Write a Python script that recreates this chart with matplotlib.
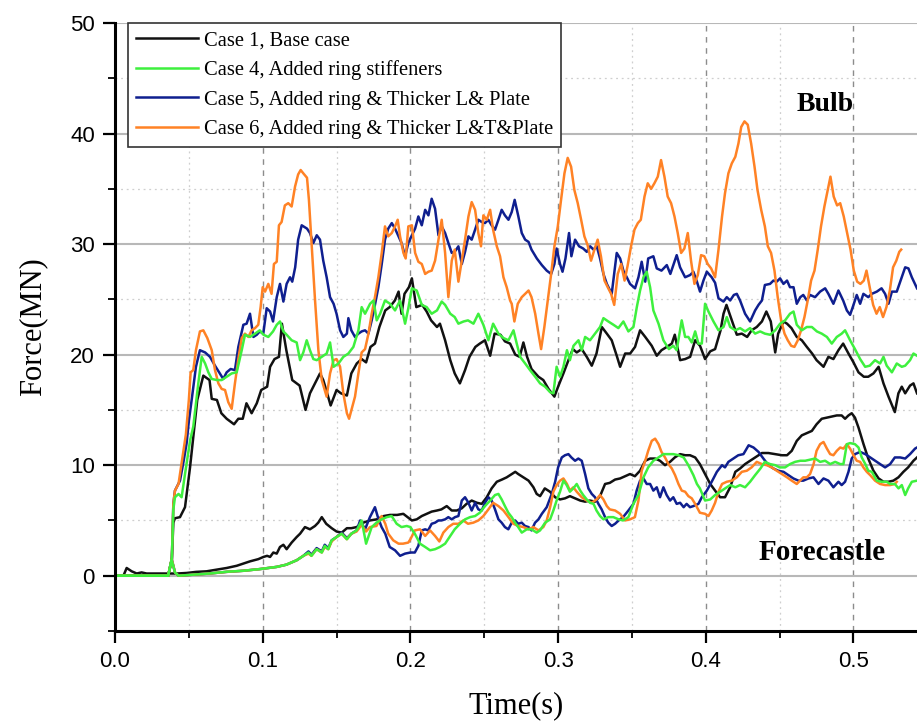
import matplotlib.pyplot as plt
import numpy as np
from matplotlib.ticker import MultipleLocator, FormatStrFormatter
from matplotlib.font_manager import FontProperties

# (time [s], force [MN]) samples for each case, bulb and forecastle contact
case1_bulb = [(0.000,0.0),(0.036,0.0),(0.0385,1.5),(0.0395,4.8),(0.0406,5.2),(0.044,5.3),(0.0474,6.2),(0.0508,9.8),(0.054,13.8),(0.0557,15.9),(0.0598,18.1),(0.064,17.7),(0.0655,16.0),(0.069,15.9),(0.072,14.7),(0.0756,14.2),(0.0806,13.7),(0.0835,14.2),(0.0865,14.2),(0.089,15.6),(0.0925,14.7),(0.096,15.6),(0.099,16.8),(0.103,17.1),(0.105,18.9),(0.108,19.6),(0.111,19.8),(0.113,22.8),(0.116,20.4),(0.120,17.7),(0.125,17.2),(0.129,15.0),(0.132,16.5),(0.1354,17.4),(0.1388,18.3),(0.141,17.7),(0.143,16.8),(0.146,15.4),(0.150,16.8),(0.153,16.5),(0.157,16.3),(0.160,18.3),(0.1637,19.2),(0.167,19.6),(0.170,19.3),(0.173,20.7),(0.176,21.0),(0.179,22.5),(0.183,24.0),(0.186,24.3),(0.1895,24.9),(0.192,25.7),(0.194,23.7),(0.196,25.5),(0.199,26.1),(0.201,26.9),(0.204,24.3),(0.208,24.5),(0.211,23.9),(0.214,23.1),(0.218,22.5),(0.220,22.8),(0.2235,21.3),(0.227,19.5),(0.230,18.3),(0.2335,17.4),(0.237,18.6),(0.240,19.8),(0.244,20.7),(0.247,21.0),(0.2505,21.3),(0.254,19.9),(0.257,21.9),(0.261,21.8),(0.264,21.2),(0.2675,21.0),(0.271,20.0),(0.274,19.8),(0.2765,21.1),(0.279,19.8),(0.282,18.7),(0.2867,18.0),(0.290,17.7),(0.2935,16.9),(0.2975,16.2),(0.300,17.1),(0.3036,18.3),(0.307,19.5),(0.310,20.5),(0.3126,20.2),(0.316,20.5),(0.3194,19.8),(0.3228,19.0),(0.326,20.1),(0.3296,22.5),(0.333,21.9),(0.3363,21.3),(0.3397,19.9),(0.342,18.9),(0.3454,20.1),(0.3488,20.1),(0.3521,20.7),(0.3555,22.2),(0.359,21.6),(0.3634,20.8),(0.3668,19.9),(0.370,20.4),(0.3736,20.7),(0.377,21.0),(0.379,21.8),(0.3826,19.5),(0.386,19.6),(0.3894,19.8),(0.3928,21.3),(0.3961,20.8),(0.3995,19.6),(0.403,20.3),(0.4063,20.5),(0.410,22.2),(0.412,23.7),(0.414,24.5),(0.4176,23.1),(0.421,21.8),(0.4244,21.9),(0.428,21.6),(0.431,22.2),(0.4345,22.5),(0.438,23.0),(0.441,23.9),(0.444,23.0),(0.447,20.2),(0.449,21.9),(0.4526,23.0),(0.455,22.8),(0.458,22.4),(0.4616,21.6),(0.465,21.3),(0.4684,20.7),(0.472,20.1),(0.475,19.5),(0.4797,18.9),(0.483,19.8),(0.4864,19.6),(0.4898,20.4),(0.493,21.0),(0.4966,20.1),(0.500,19.3),(0.5034,18.4),(0.507,18.0),(0.510,18.0),(0.5135,18.3),(0.517,18.9),(0.5203,17.4),(0.5237,16.2),(0.528,14.8),(0.5304,16.5),(0.5327,17.1),(0.535,16.5),(0.5383,17.2),(0.5406,17.4),(0.543,16.5)]

case1_fore = [(0.000,0.0),(0.0057,0.0),(0.0079,0.7),(0.0113,0.4),(0.0147,0.2),(0.018,0.3),(0.0214,0.2),(0.026,0.2),(0.030,0.2),(0.036,0.2),(0.042,0.2),(0.0485,0.25),(0.055,0.35),(0.062,0.4),(0.069,0.55),(0.0756,0.7),(0.0824,0.9),(0.087,1.1),(0.0914,1.3),(0.097,1.5),(0.1005,1.7),(0.103,1.8),(0.105,1.7),(0.1072,2.1),(0.1095,2.0),(0.1117,2.6),(0.114,2.8),(0.1162,2.4),(0.1196,3.0),(0.123,3.5),(0.1253,3.8),(0.1286,4.4),(0.132,4.2),(0.1354,4.5),(0.1376,4.8),(0.140,5.3),(0.143,4.7),(0.1467,4.3),(0.150,4.0),(0.1535,3.9),(0.157,4.3),(0.160,4.3),(0.1636,4.4),(0.168,4.8),(0.1726,5.0),(0.1772,5.1),(0.182,5.4),(0.1862,5.5),(0.191,5.5),(0.1952,5.6),(0.201,5.0),(0.2043,5.1),(0.2077,5.4),(0.211,5.6),(0.2144,5.8),(0.218,5.9),(0.221,6.0),(0.2246,6.3),(0.228,5.9),(0.2314,5.9),(0.2348,6.1),(0.238,6.5),(0.2415,6.8),(0.245,6.6),(0.2483,6.5),(0.2517,7.1),(0.255,7.9),(0.2585,8.5),(0.262,8.7),(0.2652,8.9),(0.2686,9.2),(0.271,9.4),(0.273,9.2),(0.2765,8.9),(0.280,8.6),(0.2833,8.0),(0.2855,7.4),(0.2878,7.2),(0.291,7.9),(0.2945,7.6),(0.298,7.1),(0.3013,6.9),(0.3047,7.0),(0.308,7.2),(0.3115,7.0),(0.315,6.8),(0.3183,6.7),(0.3216,6.8),(0.325,6.7),(0.3284,7.2),(0.3318,8.3),(0.335,8.4),(0.3386,8.7),(0.342,8.8),(0.3453,9.0),(0.3487,9.2),(0.352,9.0),(0.3555,9.5),(0.359,10.4),(0.3623,10.6),(0.3657,10.6),(0.369,10.4),(0.3724,10.0),(0.3758,10.3),(0.379,10.7),(0.3826,11.0),(0.386,10.9),(0.3893,10.9),(0.3928,10.7),(0.396,10.1),(0.3995,9.2),(0.403,8.3),(0.4063,7.7),(0.4097,7.1),(0.413,7.1),(0.4165,8.0),(0.420,9.4),(0.4232,9.7),(0.4266,10.1),(0.430,10.4),(0.4334,10.7),(0.438,11.1),(0.4424,11.1),(0.447,11.0),(0.4515,10.9),(0.455,10.9),(0.4582,11.3),(0.4616,12.2),(0.465,12.7),(0.4684,12.9),(0.4718,13.1),(0.475,13.7),(0.4785,14.2),(0.482,14.3),(0.4853,14.4),(0.4887,14.5),(0.492,14.5),(0.4943,14.2),(0.4966,14.5),(0.4988,14.7),(0.501,14.3),(0.5034,13.4),(0.5068,11.9),(0.510,10.6),(0.5135,9.5),(0.517,8.8),(0.5203,8.5),(0.5237,8.5),(0.527,8.6),(0.5304,8.9),(0.5338,9.4),(0.537,9.8),(0.5406,10.4),(0.543,10.7)]

case4_bulb = [(0.000,0.0),(0.036,0.0),(0.0385,1.6),(0.0395,6.0),(0.0406,7.1),(0.043,7.4),(0.0451,7.1),(0.0474,9.2),(0.0508,12.2),(0.053,13.5),(0.0564,17.4),(0.0587,19.8),(0.061,19.2),(0.0632,18.4),(0.0655,17.8),(0.069,17.7),(0.0722,17.7),(0.0756,18.0),(0.079,18.3),(0.0824,18.4),(0.0858,20.4),(0.088,21.8),(0.0914,21.6),(0.0948,21.9),(0.098,22.2),(0.1005,21.8),(0.1038,21.6),(0.107,22.1),(0.1095,22.7),(0.1117,23.0),(0.114,22.1),(0.1162,21.8),(0.1196,21.3),(0.123,21.1),(0.1253,19.5),(0.1275,20.2),(0.1298,21.3),(0.132,20.4),(0.1343,19.6),(0.1366,19.5),(0.140,19.8),(0.1433,20.1),(0.1456,21.1),(0.148,18.9),(0.1513,19.2),(0.1546,19.8),(0.158,20.1),(0.1614,20.7),(0.1648,22.2),(0.167,24.3),(0.1693,23.7),(0.1727,24.6),(0.175,24.9),(0.1772,23.1),(0.1795,23.7),(0.1828,24.9),(0.1862,24.6),(0.1896,24.0),(0.193,24.9),(0.1964,22.8),(0.1986,24.2),(0.201,26.0),(0.2043,25.8),(0.2077,24.5),(0.211,24.3),(0.2144,23.7),(0.218,24.0),(0.2212,24.8),(0.2235,24.5),(0.227,23.7),(0.230,23.4),(0.2325,22.8),(0.236,23.0),(0.239,23.1),(0.2427,22.8),(0.246,23.7),(0.2494,22.7),(0.2528,21.3),(0.256,22.8),(0.2596,21.9),(0.263,21.5),(0.2664,21.3),(0.2698,22.2),(0.272,21.0),(0.2743,19.8),(0.2777,19.2),(0.281,18.6),(0.2845,18.0),(0.2878,17.4),(0.2912,17.1),(0.2946,16.6),(0.2968,16.5),(0.299,18.9),(0.3013,18.0),(0.3036,18.9),(0.306,20.4),(0.308,19.5),(0.3104,20.8),(0.3138,21.3),(0.316,20.4),(0.3183,21.6),(0.3216,21.3),(0.325,21.9),(0.3284,22.5),(0.3307,23.3),(0.334,23.0),(0.3375,22.7),(0.3408,22.4),(0.3442,23.0),(0.3476,22.1),(0.351,22.5),(0.3533,24.3),(0.3555,25.8),(0.3578,27.0),(0.360,27.5),(0.3623,26.1),(0.3645,24.0),(0.368,22.8),(0.3713,21.3),(0.375,20.5),(0.378,20.8),(0.3803,20.4),(0.3837,23.1),(0.386,21.6),(0.3882,21.6),(0.3905,21.1),(0.3928,22.1),(0.395,21.0),(0.3973,21.0),(0.3995,24.6),(0.4018,23.9),(0.4052,23.0),(0.4086,22.2),(0.412,22.5),(0.4142,23.4),(0.4165,22.5),(0.420,22.2),(0.4232,22.4),(0.4266,22.1),(0.430,22.4),(0.4334,21.9),(0.4368,22.1),(0.440,21.9),(0.4435,21.8),(0.447,22.2),(0.4503,22.8),(0.4537,23.1),(0.457,23.7),(0.4594,23.9),(0.4616,22.7),(0.465,22.2),(0.4684,22.5),(0.4718,22.5),(0.4752,22.1),(0.4785,21.9),(0.482,21.6),(0.4853,21.0),(0.4887,21.6),(0.492,21.9),(0.4943,22.2),(0.4977,21.3),(0.501,20.5),(0.5045,19.6),(0.5079,18.9),(0.511,19.0),(0.5146,19.5),(0.518,19.2),(0.5203,19.8),(0.5225,19.0),(0.526,18.4),(0.5293,19.2),(0.5327,18.9),(0.535,19.0),(0.5383,19.5),(0.5406,20.1),(0.543,19.9)]

case4_fore = [(0.000,0.0),(0.036,0.0),(0.0384,1.4),(0.0406,0.3),(0.043,0.0),(0.053,0.1),(0.064,0.2),(0.0756,0.36),(0.087,0.45),(0.098,0.6),(0.1095,0.8),(0.116,1.0),(0.123,1.4),(0.1275,1.8),(0.131,2.1),(0.133,1.8),(0.1365,2.4),(0.140,2.1),(0.142,2.7),(0.1444,2.4),(0.1467,3.2),(0.150,3.5),(0.1535,3.8),(0.157,3.3),(0.160,3.8),(0.1636,4.1),(0.167,5.0),(0.170,2.9),(0.1738,4.4),(0.177,4.8),(0.1805,5.1),(0.184,5.3),(0.1873,5.4),(0.1907,4.7),(0.194,4.4),(0.1975,4.5),(0.200,4.4),(0.203,3.8),(0.2065,2.9),(0.210,2.6),(0.2133,2.3),(0.2167,2.4),(0.220,2.6),(0.2235,2.9),(0.227,3.6),(0.230,4.2),(0.2336,4.7),(0.237,5.1),(0.2404,5.3),(0.2438,5.4),(0.247,5.7),(0.2505,6.3),(0.254,6.8),(0.2573,7.3),(0.2596,7.4),(0.2618,6.9),(0.264,6.3),(0.2663,5.7),(0.2686,5.3),(0.2709,4.8),(0.273,4.4),(0.2754,3.9),(0.2788,4.2),(0.282,4.2),(0.2855,3.9),(0.2878,4.1),(0.2912,4.8),(0.2946,5.1),(0.2968,5.9),(0.299,6.8),(0.3013,7.6),(0.3036,8.6),(0.3058,8.2),(0.308,7.6),(0.3103,7.9),(0.3126,8.3),(0.315,7.7),(0.317,7.3),(0.3194,6.9),(0.3216,6.6),(0.324,6.5),(0.326,5.9),(0.3284,5.4),(0.3307,5.1),(0.334,5.3),(0.3374,5.3),(0.341,5.1),(0.344,5.0),(0.3476,5.3),(0.351,6.5),(0.3544,7.3),(0.3578,8.9),(0.361,9.8),(0.3645,10.4),(0.368,10.7),(0.3713,11.0),(0.375,11.0),(0.378,11.0),(0.3815,10.9),(0.385,10.7),(0.3882,10.0),(0.3916,9.1),(0.394,8.3),(0.396,7.9),(0.3995,6.8),(0.403,6.9),(0.4063,7.3),(0.4097,7.6),(0.413,7.9),(0.4165,8.2),(0.420,8.0),(0.4232,8.2),(0.4266,8.0),(0.430,8.5),(0.4334,9.1),(0.437,9.7),(0.440,10.3),(0.4435,10.1),(0.447,10.0),(0.450,9.8),(0.4537,9.8),(0.457,10.1),(0.4605,10.3),(0.464,10.4),(0.4673,10.4),(0.4707,10.5),(0.474,10.6),(0.4774,10.3),(0.4808,10.4),(0.4842,10.1),(0.4876,10.3),(0.491,10.1),(0.4932,10.1),(0.4955,11.9),(0.4977,12.0),(0.501,11.9),(0.5034,11.6),(0.5056,10.7),(0.508,10.1),(0.510,9.5),(0.5124,9.4),(0.5158,8.6),(0.519,8.5),(0.5225,8.5),(0.5248,8.3),(0.528,8.3),(0.5305,7.9),(0.5327,8.2),(0.535,7.3),(0.537,7.9),(0.5395,8.5),(0.543,8.6)]

case5_bulb = [(0.000,0.0),(0.036,0.0),(0.0385,1.5),(0.0395,6.5),(0.0406,7.7),(0.044,8.6),(0.0465,10.4),(0.0485,12.0),(0.050,14.0),(0.0519,15.9),(0.0548,18.9),(0.0575,20.4),(0.061,20.2),(0.0643,19.8),(0.0677,19.0),(0.071,18.3),(0.0733,17.8),(0.0756,18.4),(0.0783,18.7),(0.0812,18.6),(0.0835,20.7),(0.0869,22.7),(0.0891,22.8),(0.0914,23.7),(0.0937,21.6),(0.096,21.8),(0.098,22.1),(0.1004,21.9),(0.1027,24.2),(0.105,23.9),(0.107,23.0),(0.1095,25.2),(0.1117,26.4),(0.114,24.8),(0.1162,26.4),(0.1185,27.0),(0.120,26.6),(0.122,27.9),(0.124,30.4),(0.1264,31.7),(0.130,31.4),(0.132,31.0),(0.1343,30.1),(0.1366,30.8),(0.1388,30.4),(0.141,28.5),(0.1433,27.0),(0.1456,25.2),(0.148,24.6),(0.150,23.7),(0.1524,22.2),(0.1546,21.6),(0.157,21.9),(0.158,23.3),(0.160,22.2),(0.1625,21.6),(0.1648,21.9),(0.167,22.1),(0.1693,22.2),(0.1716,21.9),(0.1738,23.1),(0.176,24.5),(0.1783,26.1),(0.1806,28.2),(0.1828,30.4),(0.185,31.4),(0.1874,31.9),(0.1896,31.4),(0.192,30.7),(0.194,30.1),(0.1964,28.9),(0.1986,30.1),(0.201,30.8),(0.2032,31.4),(0.2054,32.5),(0.2077,31.7),(0.210,33.1),(0.2122,32.6),(0.2144,34.1),(0.2167,33.2),(0.219,30.8),(0.2212,31.6),(0.2235,31.0),(0.2257,30.1),(0.228,29.2),(0.230,29.3),(0.2325,29.8),(0.2348,28.2),(0.237,29.3),(0.2393,30.7),(0.2415,30.4),(0.2438,31.3),(0.246,32.2),(0.2483,32.0),(0.2505,31.9),(0.2528,32.2),(0.255,31.7),(0.2573,31.3),(0.2596,32.2),(0.2618,33.1),(0.264,32.6),(0.2664,32.2),(0.2686,32.9),(0.2706,34.0),(0.2731,32.5),(0.2754,31.0),(0.2777,30.4),(0.280,30.2),(0.282,29.5),(0.2856,28.7),(0.289,28.1),(0.2923,27.6),(0.2953,27.3),(0.2975,28.2),(0.299,29.6),(0.3013,28.2),(0.303,27.5),(0.305,28.7),(0.3074,31.0),(0.309,28.9),(0.3115,30.4),(0.3142,29.8),(0.317,29.6),(0.3194,29.3),(0.3217,29.8),(0.324,29.5),(0.3262,29.8),(0.3284,28.7),(0.3307,27.3),(0.333,26.4),(0.3363,25.5),(0.3397,29.2),(0.342,28.7),(0.3442,27.6),(0.3465,27.0),(0.3487,26.4),(0.3521,26.0),(0.3544,27.0),(0.3566,28.4),(0.359,26.6),(0.361,28.7),(0.3645,28.9),(0.3668,27.8),(0.370,27.6),(0.3736,28.1),(0.376,27.3),(0.378,28.1),(0.3803,29.0),(0.3826,27.9),(0.386,27.0),(0.3894,27.2),(0.3916,27.5),(0.394,26.6),(0.3961,25.7),(0.3984,26.7),(0.4007,27.5),(0.404,27.0),(0.4063,26.5),(0.4086,25.1),(0.412,24.8),(0.4142,25.2),(0.4165,24.9),(0.419,25.4),(0.421,25.5),(0.4232,24.9),(0.4266,23.7),(0.430,23.0),(0.4334,24.0),(0.4357,24.5),(0.438,24.9),(0.440,26.3),(0.4435,26.4),(0.4458,26.7),(0.448,26.6),(0.4503,26.9),(0.4526,26.4),(0.455,26.7),(0.457,26.1),(0.4594,26.1),(0.4616,24.6),(0.464,25.2),(0.466,25.4),(0.4684,24.9),(0.4706,25.4),(0.474,25.2),(0.4774,25.7),(0.4808,26.0),(0.483,25.5),(0.4864,24.6),(0.4898,25.8),(0.493,24.9),(0.4955,24.0),(0.4977,23.6),(0.500,24.5),(0.5022,25.4),(0.5045,24.6),(0.5067,25.5),(0.510,25.2),(0.5124,25.5),(0.5158,25.7),(0.519,26.0),(0.5214,25.5),(0.5237,24.6),(0.526,25.7),(0.5293,25.7),(0.5316,26.6),(0.535,27.9),(0.5372,27.8),(0.5395,27.0),(0.543,26.0)]

case5_fore = [(0.000,0.0),(0.036,0.0),(0.0384,1.5),(0.0406,0.3),(0.043,0.0),(0.053,0.1),(0.064,0.2),(0.0756,0.35),(0.087,0.45),(0.098,0.6),(0.1095,0.8),(0.116,1.0),(0.123,1.4),(0.1275,1.8),(0.131,2.2),(0.133,1.9),(0.1365,2.5),(0.140,2.2),(0.142,2.8),(0.1444,2.5),(0.1467,3.2),(0.150,3.5),(0.1535,3.9),(0.157,3.4),(0.160,3.8),(0.1636,4.1),(0.166,5.0),(0.1693,4.2),(0.1726,5.3),(0.176,6.2),(0.178,5.3),(0.1805,4.4),(0.183,3.8),(0.186,2.6),(0.1896,2.3),(0.193,1.8),(0.1964,2.0),(0.200,2.1),(0.203,2.1),(0.2054,2.7),(0.2077,4.1),(0.210,4.2),(0.212,4.1),(0.2144,4.7),(0.2167,4.8),(0.219,5.0),(0.221,5.0),(0.2235,5.1),(0.2257,5.3),(0.228,5.1),(0.2302,5.3),(0.2325,5.4),(0.2348,6.8),(0.237,7.1),(0.2393,6.6),(0.2415,5.9),(0.2438,6.6),(0.246,6.0),(0.2483,5.9),(0.2505,6.6),(0.2528,7.1),(0.255,6.8),(0.2573,6.0),(0.2596,5.1),(0.2618,4.8),(0.264,4.4),(0.2663,4.2),(0.2686,4.8),(0.2709,5.0),(0.273,4.7),(0.2754,4.8),(0.2776,4.5),(0.280,4.4),(0.282,4.1),(0.2844,4.8),(0.2867,5.1),(0.289,5.6),(0.2923,6.2),(0.2957,7.4),(0.298,8.5),(0.300,9.8),(0.3025,10.7),(0.3047,10.9),(0.307,11.0),(0.309,10.7),(0.3115,10.4),(0.3137,10.6),(0.316,10.4),(0.3183,9.2),(0.3205,7.9),(0.3228,7.4),(0.325,7.1),(0.3273,6.5),(0.3295,6.0),(0.3318,5.3),(0.334,4.8),(0.3363,4.5),(0.3386,4.7),(0.341,5.0),(0.344,5.3),(0.3476,5.9),(0.351,6.5),(0.3532,7.7),(0.3555,8.6),(0.3578,8.8),(0.360,8.3),(0.3623,8.3),(0.3645,7.7),(0.3668,8.0),(0.369,7.1),(0.3713,8.0),(0.3735,7.3),(0.3758,6.8),(0.378,7.1),(0.3803,6.5),(0.3826,6.6),(0.385,6.2),(0.387,6.5),(0.3893,6.2),(0.3916,6.3),(0.395,6.5),(0.3973,7.1),(0.4007,7.7),(0.404,8.5),(0.4075,9.4),(0.411,10.0),(0.413,9.8),(0.4153,10.3),(0.4187,10.6),(0.422,10.9),(0.4255,11.0),(0.429,11.8),(0.4323,11.6),(0.4357,11.2),(0.439,10.6),(0.4424,10.0),(0.4458,9.7),(0.449,9.5),(0.4526,9.4),(0.456,9.1),(0.4593,8.8),(0.4627,8.6),(0.466,8.6),(0.4695,8.8),(0.4729,8.9),(0.4763,8.3),(0.4797,8.8),(0.483,8.6),(0.4864,8.0),(0.4898,8.5),(0.492,8.2),(0.4943,8.5),(0.4966,9.4),(0.4988,10.6),(0.501,11.0),(0.5045,11.2),(0.508,11.0),(0.5113,10.7),(0.5146,10.4),(0.518,10.1),(0.5214,9.8),(0.5248,10.1),(0.528,10.7),(0.5316,10.7),(0.535,10.6),(0.5383,11.0),(0.5417,11.5),(0.543,11.6)]

case6_bulb = [(0.000,0.0),(0.036,0.0),(0.0385,1.5),(0.0395,6.5),(0.0406,7.7),(0.043,8.3),(0.045,10.1),(0.048,12.8),(0.050,15.9),(0.0512,18.4),(0.053,18.6),(0.0548,20.4),(0.0575,22.1),(0.0598,22.2),(0.0625,21.5),(0.0655,20.4),(0.0677,18.6),(0.070,17.4),(0.0722,16.9),(0.0745,16.8),(0.0767,15.7),(0.079,15.1),(0.0812,17.4),(0.0835,19.6),(0.0858,21.5),(0.088,21.9),(0.0903,21.6),(0.0925,22.2),(0.0948,22.4),(0.097,22.7),(0.0986,24.3),(0.100,26.1),(0.1016,25.7),(0.1038,26.4),(0.106,25.5),(0.1076,28.2),(0.1095,28.4),(0.111,31.7),(0.1128,32.0),(0.115,33.5),(0.1173,33.7),(0.1196,33.4),(0.1219,35.2),(0.124,36.3),(0.1257,36.7),(0.1275,36.4),(0.130,36.0),(0.1313,34.0),(0.1332,29.8),(0.1354,25.0),(0.1377,20.4),(0.140,17.7),(0.1433,16.2),(0.1456,18.3),(0.148,19.5),(0.150,19.6),(0.1524,18.9),(0.1546,16.5),(0.157,14.7),(0.1585,14.2),(0.1607,15.3),(0.1625,16.2),(0.1648,18.3),(0.167,20.2),(0.1693,20.5),(0.1716,21.9),(0.1738,23.7),(0.176,25.2),(0.1783,27.0),(0.1806,29.2),(0.1828,31.6),(0.185,30.7),(0.1874,31.0),(0.1896,31.6),(0.1914,32.2),(0.193,30.7),(0.1953,29.2),(0.1968,28.7),(0.1986,31.6),(0.201,31.7),(0.2032,29.2),(0.2054,28.4),(0.2077,28.2),(0.210,27.3),(0.2122,27.5),(0.2144,27.6),(0.2167,28.5),(0.219,30.4),(0.2212,32.2),(0.2235,29.2),(0.2257,25.2),(0.228,28.5),(0.230,29.5),(0.2325,26.6),(0.2348,28.5),(0.237,30.4),(0.2393,32.5),(0.2415,33.8),(0.2438,33.1),(0.246,31.0),(0.2478,29.8),(0.2494,32.6),(0.2517,32.2),(0.254,33.1),(0.256,31.3),(0.2585,29.8),(0.2607,28.9),(0.263,27.0),(0.2652,26.1),(0.2675,24.9),(0.2686,24.6),(0.2704,23.0),(0.2727,24.6),(0.2754,25.2),(0.2777,25.5),(0.280,25.8),(0.282,25.2),(0.2845,23.7),(0.2867,21.9),(0.2885,20.5),(0.2907,22.5),(0.293,24.9),(0.2953,27.3),(0.2975,29.8),(0.2998,31.6),(0.302,34.0),(0.3043,36.4),(0.3065,37.8),(0.3088,37.0),(0.311,34.9),(0.3133,33.7),(0.3156,32.2),(0.3178,30.7),(0.320,29.9),(0.3223,28.5),(0.3246,29.5),(0.3268,30.4),(0.329,28.9),(0.3314,26.7),(0.3336,26.1),(0.3359,25.5),(0.338,24.5),(0.3404,27.3),(0.3427,28.2),(0.345,26.7),(0.347,28.0),(0.3494,29.8),(0.3517,31.3),(0.354,31.9),(0.356,32.2),(0.3585,34.3),(0.3607,35.5),(0.363,35.0),(0.3652,35.5),(0.3675,36.1),(0.3697,37.6),(0.372,36.1),(0.3742,34.3),(0.3765,33.7),(0.3788,32.5),(0.381,31.0),(0.3833,29.2),(0.3855,29.6),(0.3878,31.0),(0.390,28.5),(0.3923,26.4),(0.3946,27.2),(0.3968,29.0),(0.399,28.9),(0.4013,28.2),(0.4036,27.8),(0.4063,27.0),(0.4086,29.5),(0.411,32.5),(0.413,34.6),(0.4153,36.4),(0.4176,37.3),(0.420,37.9),(0.4221,39.1),(0.424,40.6),(0.4262,41.1),(0.4284,40.8),(0.4307,39.1),(0.433,37.0),(0.435,34.9),(0.4375,33.1),(0.440,31.6),(0.442,29.8),(0.4442,29.2),(0.4465,27.6),(0.4487,25.2),(0.451,23.1),(0.4533,21.9),(0.4555,21.3),(0.4578,20.8),(0.460,20.7),(0.4623,21.3),(0.4645,22.2),(0.4668,23.4),(0.469,24.9),(0.4713,26.7),(0.4736,27.6),(0.4758,29.5),(0.478,31.6),(0.4803,33.4),(0.4826,34.9),(0.4844,36.1),(0.4866,34.3),(0.4889,33.5),(0.491,33.7),(0.4934,32.5),(0.4957,31.0),(0.498,29.5),(0.5002,27.6),(0.5025,26.6),(0.5047,26.4),(0.507,26.7),(0.5088,27.6),(0.511,26.1),(0.5133,24.5),(0.5156,23.7),(0.5178,24.3),(0.520,23.4),(0.5223,24.3),(0.5246,25.8),(0.5268,27.9),(0.529,28.5),(0.531,29.3),(0.5323,29.5)]

case6_fore = [(0.000,0.0),(0.036,0.0),(0.0384,1.5),(0.0406,0.3),(0.043,0.0),(0.053,0.1),(0.064,0.2),(0.0756,0.35),(0.087,0.45),(0.098,0.6),(0.1095,0.8),(0.116,1.0),(0.123,1.4),(0.1275,1.8),(0.131,2.0),(0.133,1.8),(0.1365,2.4),(0.140,2.1),(0.142,2.6),(0.1444,2.4),(0.1467,3.1),(0.150,3.5),(0.1535,3.8),(0.157,3.3),(0.160,3.8),(0.1636,4.0),(0.167,4.6),(0.170,4.0),(0.1726,4.4),(0.177,4.5),(0.1805,5.4),(0.183,4.7),(0.185,3.8),(0.1884,3.2),(0.192,2.9),(0.195,2.9),(0.1986,3.0),(0.200,3.3),(0.203,4.1),(0.2065,4.2),(0.210,3.6),(0.2133,4.1),(0.2167,3.6),(0.2196,3.1),(0.2223,3.9),(0.2257,4.4),(0.229,4.7),(0.2325,4.7),(0.2358,5.0),(0.239,4.7),(0.2426,4.8),(0.246,5.0),(0.2494,5.4),(0.2528,6.0),(0.256,6.6),(0.2596,6.3),(0.263,5.9),(0.2664,5.3),(0.2697,4.7),(0.273,4.5),(0.2765,4.4),(0.280,4.2),(0.2833,4.4),(0.2867,4.1),(0.290,4.4),(0.2923,5.0),(0.2946,6.2),(0.2968,7.6),(0.299,8.2),(0.3013,8.6),(0.3036,8.8),(0.306,8.3),(0.308,7.7),(0.3103,8.0),(0.3126,7.6),(0.316,7.1),(0.3194,6.8),(0.3228,6.6),(0.326,6.9),(0.3284,7.3),(0.3307,6.9),(0.333,6.3),(0.335,6.0),(0.3386,5.9),(0.342,5.6),(0.3453,5.0),(0.3487,5.1),(0.352,5.3),(0.3544,6.8),(0.3566,9.5),(0.359,10.4),(0.361,11.3),(0.3634,12.2),(0.3657,12.4),(0.368,11.9),(0.370,11.2),(0.3724,10.7),(0.3747,10.1),(0.377,9.7),(0.3792,9.1),(0.3815,8.3),(0.3837,7.7),(0.386,7.6),(0.3882,7.2),(0.3905,7.0),(0.3928,6.5),(0.396,5.7),(0.3995,5.6),(0.4018,5.4),(0.404,5.9),(0.4063,6.6),(0.4086,7.6),(0.411,8.3),(0.4142,8.5),(0.4176,8.6),(0.421,8.9),(0.4244,9.4),(0.4278,9.5),(0.431,9.8),(0.4345,10.3),(0.438,10.1),(0.4413,10.0),(0.4447,9.8),(0.448,9.5),(0.4515,9.2),(0.455,8.9),(0.4582,8.6),(0.4616,8.3),(0.4638,8.6),(0.466,8.9),(0.4684,8.9),(0.4706,9.2),(0.473,10.1),(0.475,11.3),(0.4774,11.9),(0.4797,12.1),(0.482,11.5),(0.4842,11.0),(0.4864,10.9),(0.4887,11.3),(0.491,11.6),(0.4932,11.5),(0.4955,11.9),(0.4977,11.5),(0.500,10.9),(0.5022,10.4),(0.5045,10.3),(0.5067,9.8),(0.509,9.4),(0.5113,9.1),(0.5146,8.6),(0.518,8.3),(0.5214,8.2),(0.5248,8.2),(0.528,8.3),(0.5293,8.5)]

labels = ['Case 1, Base case',
          'Case 4, Added ring stiffeners',
          'Case 5, Added ring & Thicker L& Plate',
          'Case 6, Added ring & Thicker L&T&Plate']
colors = ['#111111', '#3ef03e', '#0f1f8f', '#ff8225']

serif = 'Liberation Serif'
sans = 'Liberation Sans'

fig = plt.figure(figsize=(9.17, 7.25), dpi=100)
ax = fig.add_axes([115 / 917, 94 / 725, 802 / 917, 608 / 725])

series = [(case1_bulb, case1_fore), (case4_bulb, case4_fore),
          (case5_bulb, case5_fore), (case6_bulb, case6_fore)]
zorders = [3, 6, 4, 5]
handles = []
for (bulb, fore), c, lab, z in zip(series, colors, labels, zorders):
    b = np.array(bulb)
    f = np.array(fore)
    h, = ax.plot(b[:, 0], b[:, 1], color=c, lw=1.8, label=lab, zorder=z)
    ax.plot(f[:, 0], f[:, 1], color=c, lw=1.8, zorder=z)
    handles.append(h)

ax.set_xlim(0, 0.543)
ax.set_ylim(-5, 50)
ax.xaxis.set_major_locator(MultipleLocator(0.1))
ax.xaxis.set_minor_locator(MultipleLocator(0.05))
ax.yaxis.set_major_locator(MultipleLocator(10))
ax.yaxis.set_minor_locator(MultipleLocator(5))
ax.xaxis.set_major_formatter(FormatStrFormatter('%.1f'))

# grid: solid horizontal, dashed vertical, dotted minor
ax.set_axisbelow(True)
ax.grid(which='major', axis='y', ls='-', color='#b8b8b8', lw=1.5)
ax.grid(which='major', axis='x', ls=(0, (4, 4)), color='#8c8c8c', lw=1.0)
ax.grid(which='minor', axis='both', ls=(0, (1.5, 3)), color='#cfcfcf', lw=0.9)

for s in ['top', 'right']:
    ax.spines[s].set_visible(False)
for s in ['left', 'bottom']:
    ax.spines[s].set_linewidth(2.2)
    ax.spines[s].set_zorder(10)

ax.tick_params(which='major', direction='out', length=8.5, width=1.6,
               labelsize=16, pad=6)
ax.tick_params(which='minor', direction='out', length=5, width=1.3)
for lbl in ax.get_xticklabels() + ax.get_yticklabels():
    lbl.set_family(sans)

ax.set_xlabel('Time(s)', family=serif, fontsize=22, labelpad=14)
ax.set_ylabel('Force(MN)', family=serif, fontsize=22, labelpad=16)

ax.text(0.4807, 42.6, 'Bulb', family=serif, fontsize=20, weight='bold',
        ha='center', va='center')
ax.text(0.4787, 2.1, 'Forecastle', family=serif, fontsize=21, weight='bold',
        ha='center', va='center', zorder=8)

leg = ax.legend(handles=handles, loc='upper left', bbox_to_anchor=(0.016, 1.0),
                borderaxespad=0, fancybox=False, edgecolor='#333333',
                framealpha=1, prop=FontProperties(family=serif, size=14.8),
                handlelength=3.0, handletextpad=0.3, labelspacing=0.48,
                borderpad=0.4)
leg.get_frame().set_linewidth(1.2)
leg.set_zorder(12)

plt.savefig('out.png', dpi=100)
